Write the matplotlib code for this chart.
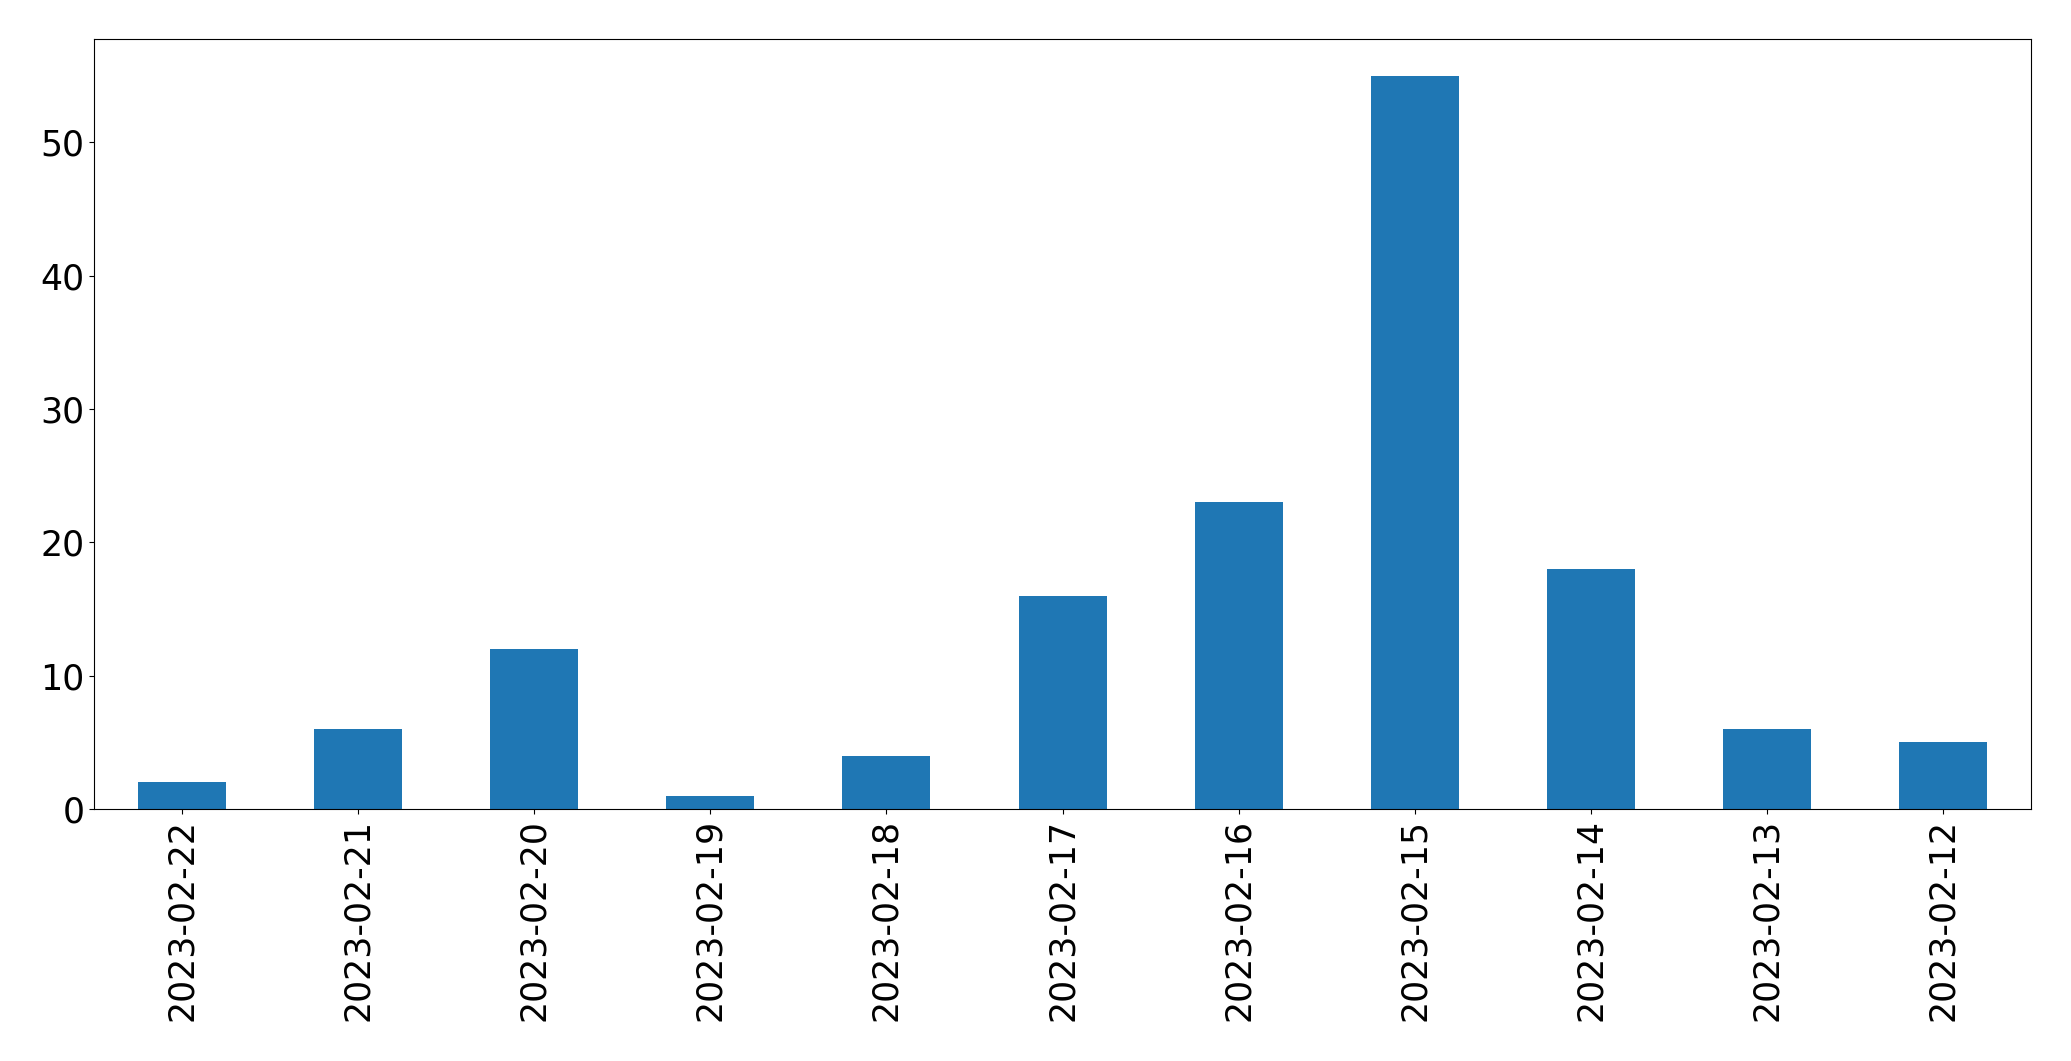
import matplotlib
matplotlib.use("Agg")
import matplotlib.pyplot as plt
import pandas as pd

# daily counts, newest first (as in the source)
dates = ["2023-02-22", "2023-02-21", "2023-02-20", "2023-02-19", "2023-02-18",
         "2023-02-17", "2023-02-16", "2023-02-15", "2023-02-14", "2023-02-13",
         "2023-02-12"]
counts = [2, 6, 12, 1, 4, 16, 23, 55, 18, 6, 5]

s = pd.Series(counts, index=dates)

fig, ax = plt.subplots(figsize=(20.71, 10.61), dpi=100)
s.plot(kind="bar", ax=ax, color="#1f77b4", fontsize=25)
fig.subplots_adjust(left=0.0454, right=0.9807, top=0.9632, bottom=0.2375)

fig.savefig("out.png", dpi=100)
